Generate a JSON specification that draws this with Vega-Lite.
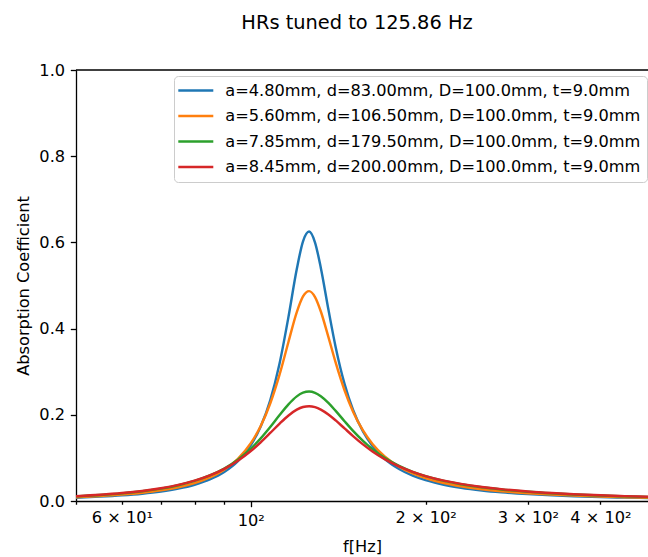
{
  "$schema": "https://vega.github.io/schema/vega-lite/v6.json",
  "width": 572,
  "height": 431,
  "autosize": {"type": "none"},
  "padding": {"left": 76, "top": 70, "right": 0, "bottom": 56},
  "background": "white",
  "config": {
    "font": "DejaVu Sans",
    "view": {"stroke": null},
    "axis": {"labelFont": "DejaVu Sans", "titleFont": "DejaVu Sans", "labelColor": "black", "titleColor": "black", "domainColor": "black", "tickColor": "black", "domainWidth": 1.3, "tickWidth": 1.3, "labelFontSize": 16.2, "titleFontSize": 16.2, "titleFontWeight": "normal", "grid": false, "labelFlush": false, "labelOverlap": false}
  },
  "title": {"text": "HRs tuned to 125.86 Hz", "fontSize": 19.4, "fontWeight": "normal", "font": "DejaVu Sans", "color": "black", "anchor": "middle", "baseline": "alphabetic", "offset": 14, "dx": -5},
  "data": {"values": [
    {"f":50,"s":"A","v":0.00774},{"f":55,"s":"A","v":0.01011},{"f":60,"s":"A","v":0.01313},{"f":65,"s":"A","v":0.01700},{"f":70,"s":"A","v":0.02204},{"f":75,"s":"A","v":0.02871},{"f":80,"s":"A","v":0.03767},{"f":85,"s":"A","v":0.04998},{"f":90,"s":"A","v":0.06733},{"f":95,"s":"A","v":0.09241},{"f":100,"s":"A","v":0.12969},{"f":104,"s":"A","v":0.17296},{"f":108,"s":"A","v":0.23367},{"f":112,"s":"A","v":0.31727},{"f":116,"s":"A","v":0.42431},{"f":120,"s":"A","v":0.53826},{"f":123,"s":"A","v":0.60257},{"f":126,"s":"A","v":0.62511},{"f":129,"s":"A","v":0.59973},{"f":132,"s":"A","v":0.54080},{"f":136,"s":"A","v":0.44492},{"f":140,"s":"A","v":0.35700},{"f":145,"s":"A","v":0.27177},{"f":150,"s":"A","v":0.21127},{"f":156,"s":"A","v":0.16153},{"f":162,"s":"A","v":0.12784},{"f":170,"s":"A","v":0.09788},{"f":180,"s":"A","v":0.07415},{"f":190,"s":"A","v":0.05885},{"f":200,"s":"A","v":0.04836},{"f":215,"s":"A","v":0.03779},{"f":230,"s":"A","v":0.03080},{"f":250,"s":"A","v":0.02455},{"f":270,"s":"A","v":0.02032},{"f":300,"s":"A","v":0.01607},{"f":330,"s":"A","v":0.01323},{"f":360,"s":"A","v":0.01122},{"f":400,"s":"A","v":0.00929},{"f":440,"s":"A","v":0.00791},{"f":483,"s":"A","v":0.00680},
    {"f":50,"s":"B","v":0.00871},{"f":55,"s":"B","v":0.01136},{"f":60,"s":"B","v":0.01472},{"f":65,"s":"B","v":0.01901},{"f":70,"s":"B","v":0.02456},{"f":75,"s":"B","v":0.03182},{"f":80,"s":"B","v":0.04150},{"f":85,"s":"B","v":0.05459},{"f":90,"s":"B","v":0.07266},{"f":95,"s":"B","v":0.09803},{"f":100,"s":"B","v":0.13416},{"f":104,"s":"B","v":0.17395},{"f":108,"s":"B","v":0.22618},{"f":112,"s":"B","v":0.29194},{"f":116,"s":"B","v":0.36728},{"f":120,"s":"B","v":0.43823},{"f":123,"s":"B","v":0.47468},{"f":126,"s":"B","v":0.48690},{"f":129,"s":"B","v":0.47312},{"f":132,"s":"B","v":0.43972},{"f":136,"s":"B","v":0.38077},{"f":140,"s":"B","v":0.32098},{"f":145,"s":"B","v":0.25697},{"f":150,"s":"B","v":0.20735},{"f":156,"s":"B","v":0.16365},{"f":162,"s":"B","v":0.13241},{"f":170,"s":"B","v":0.10343},{"f":180,"s":"B","v":0.07963},{"f":190,"s":"B","v":0.06388},{"f":200,"s":"B","v":0.05288},{"f":215,"s":"B","v":0.04163},{"f":230,"s":"B","v":0.03410},{"f":250,"s":"B","v":0.02730},{"f":270,"s":"B","v":0.02266},{"f":300,"s":"B","v":0.01797},{"f":330,"s":"B","v":0.01483},{"f":360,"s":"B","v":0.01259},{"f":400,"s":"B","v":0.01045},{"f":440,"s":"B","v":0.00890},{"f":483,"s":"B","v":0.00766},
    {"f":50,"s":"C","v":0.01068},{"f":55,"s":"C","v":0.01382},{"f":60,"s":"C","v":0.01773},{"f":65,"s":"C","v":0.02263},{"f":70,"s":"C","v":0.02880},{"f":75,"s":"C","v":0.03661},{"f":80,"s":"C","v":0.04654},{"f":85,"s":"C","v":0.05922},{"f":90,"s":"C","v":0.07541},{"f":95,"s":"C","v":0.09593},{"f":100,"s":"C","v":0.12140},{"f":104,"s":"C","v":0.14535},{"f":108,"s":"C","v":0.17173},{"f":112,"s":"C","v":0.19881},{"f":116,"s":"C","v":0.22368},{"f":120,"s":"C","v":0.24273},{"f":123,"s":"C","v":0.25124},{"f":126,"s":"C","v":0.25392},{"f":129,"s":"C","v":0.25089},{"f":132,"s":"C","v":0.24310},{"f":136,"s":"C","v":0.22759},{"f":140,"s":"C","v":0.20906},{"f":145,"s":"C","v":0.18514},{"f":150,"s":"C","v":0.16280},{"f":156,"s":"C","v":0.13952},{"f":162,"s":"C","v":0.12026},{"f":170,"s":"C","v":0.10000},{"f":180,"s":"C","v":0.08130},{"f":190,"s":"C","v":0.06772},{"f":200,"s":"C","v":0.05761},{"f":215,"s":"C","v":0.04667},{"f":230,"s":"C","v":0.03898},{"f":250,"s":"C","v":0.03178},{"f":270,"s":"C","v":0.02672},{"f":300,"s":"C","v":0.02146},{"f":330,"s":"C","v":0.01787},{"f":360,"s":"C","v":0.01526},{"f":400,"s":"C","v":0.01274},{"f":440,"s":"C","v":0.01090},{"f":483,"s":"C","v":0.00941},
    {"f":50,"s":"D","v":0.01115},{"f":55,"s":"D","v":0.01439},{"f":60,"s":"D","v":0.01840},{"f":65,"s":"D","v":0.02339},{"f":70,"s":"D","v":0.02961},{"f":75,"s":"D","v":0.03739},{"f":80,"s":"D","v":0.04715},{"f":85,"s":"D","v":0.05938},{"f":90,"s":"D","v":0.07464},{"f":95,"s":"D","v":0.09341},{"f":100,"s":"D","v":0.11589},{"f":104,"s":"D","v":0.13624},{"f":108,"s":"D","v":0.15780},{"f":112,"s":"D","v":0.17908},{"f":116,"s":"D","v":0.19789},{"f":120,"s":"D","v":0.21186},{"f":123,"s":"D","v":0.21798},{"f":126,"s":"D","v":0.21989},{"f":129,"s":"D","v":0.21773},{"f":132,"s":"D","v":0.21212},{"f":136,"s":"D","v":0.20079},{"f":140,"s":"D","v":0.18692},{"f":145,"s":"D","v":0.16845},{"f":150,"s":"D","v":0.15059},{"f":156,"s":"D","v":0.13134},{"f":162,"s":"D","v":0.11490},{"f":170,"s":"D","v":0.09706},{"f":180,"s":"D","v":0.08009},{"f":190,"s":"D","v":0.06744},{"f":200,"s":"D","v":0.05784},{"f":215,"s":"D","v":0.04728},{"f":230,"s":"D","v":0.03974},{"f":250,"s":"D","v":0.03259},{"f":270,"s":"D","v":0.02751},{"f":300,"s":"D","v":0.02220},{"f":330,"s":"D","v":0.01854},{"f":360,"s":"D","v":0.01587},{"f":400,"s":"D","v":0.01327},{"f":440,"s":"D","v":0.01137},{"f":483,"s":"D","v":0.00983}
  ]},
  "layer": [
    {
      "mark": {"type": "line", "strokeWidth": 2.44, "interpolate": "monotone"},
      "encoding": {
        "x": {
          "field": "f", "type": "quantitative",
          "scale": {"type": "log", "domain": [50, 483], "nice": false},
          "axis": {
            "title": "f[Hz]",
            "values": [50, 60, 70, 80, 90, 100, 200, 300, 400],
            "labelExpr": "datum.value==60?'6 × 10¹':datum.value==100?'10²':datum.value==200?'2 × 10²':datum.value==300?'3 × 10²':datum.value==400?'4 × 10²':''",
            "tickSize": {"condition": {"test": "datum.value==100", "value": 5.7}, "value": 3.25},
            "labelPadding": 5.5,
            "titlePadding": 10
          }
        },
        "y": {
          "field": "v", "type": "quantitative",
          "scale": {"domain": [0, 1], "nice": false},
          "axis": {
            "title": "Absorption Coefficient",
            "values": [0, 0.2, 0.4, 0.6, 0.8, 1],
            "format": ".1f",
            "tickSize": 5.7,
            "labelPadding": 5.7,
            "titlePadding": 7
          }
        },
        "color": {
          "field": "s", "type": "nominal",
          "scale": {"domain": ["A", "B", "C", "D"], "range": ["#1f77b4", "#ff7f0e", "#2ca02c", "#d62728"]},
          "legend": {
            "title": null,
            "orient": "none",
            "legendX": 98,
            "legendY": 6,
            "symbolType": "M-2.5,0H2.5",
            "symbolSize": 196,
            "symbolStrokeWidth": 2.44,
            "symbolOffset": 7.3,
            "labelOffset": 21,
            "labelFont": "DejaVu Sans",
            "labelFontSize": 16.2,
            "labelColor": "black",
            "labelLimit": 600,
            "rowPadding": 8.5,
            "padding": 6,
            "strokeColor": "#cccccc",
            "fillColor": "rgba(255,255,255,0.8)",
            "cornerRadius": 4,
            "labelExpr": "datum.label=='A'?'a=4.80mm, d=83.00mm, D=100.0mm, t=9.0mm':datum.label=='B'?'a=5.60mm, d=106.50mm, D=100.0mm, t=9.0mm':datum.label=='C'?'a=7.85mm, d=179.50mm, D=100.0mm, t=9.0mm':'a=8.45mm, d=200.00mm, D=100.0mm, t=9.0mm'"
          }
        }
      }
    },
    {
      "data": {"values": [{}]},
      "mark": {"type": "rule", "color": "black", "strokeWidth": 1.3},
      "encoding": {"y": {"datum": 1}}
    }
  ]
}
